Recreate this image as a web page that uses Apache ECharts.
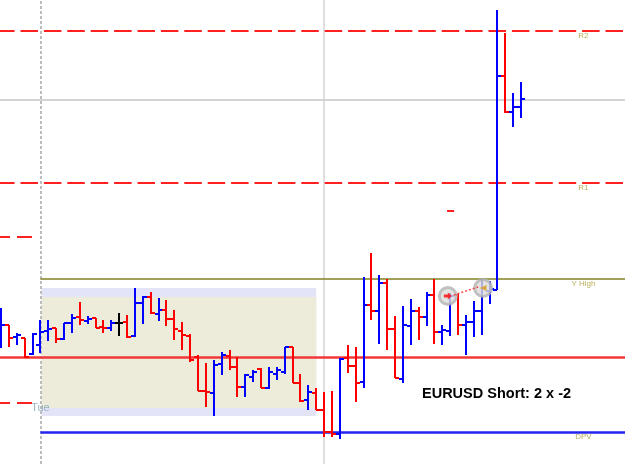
<!DOCTYPE html>
<html><head><meta charset="utf-8">
<script src="https://cdn.jsdelivr.net/npm/echarts@6/dist/echarts.min.js"></script>
<style>html,body{margin:0;padding:0;background:#fff}#c{width:625px;height:464px}</style>
</head><body><div id="c"></div>
<script>
// bar index (time slots)
const barIndex = Array.from({length: 67}, (_, i) => i);
const opens = [1.3155,1.3175,1.3163,1.3162,1.3146,1.3155,1.3169,1.3172,1.3161,1.3177,
1.3183,1.3179,1.3182,1.3173,1.3172,1.3177,1.3178,1.3164,1.3197,1.3203,
1.3186,1.3190,1.3181,1.3169,1.3164,1.3143,1.3109,1.3107,1.3136,1.3144,
1.3133,1.3113,1.3123,1.3131,1.3112,1.3126,1.3128,1.3153,1.3117,1.3100,
1.3107,1.3090,1.3068,1.3066,1.3142,1.3134,1.3118,1.3195,1.3189,1.3217,
1.3171,1.3121,1.3174,1.3189,1.3183,1.3205,1.3168,1.3169,1.3205,1.3175,
1.3178,1.3189,1.3209,1.3210,1.3424,1.3388,1.3393];
const highs = [1.3192,1.3175,1.3167,1.3162,1.3167,1.3180,1.3180,1.3172,1.3177,1.3186,
1.3198,1.3184,1.3182,1.3180,1.3180,1.3187,1.3185,1.3212,1.3204,1.3208,
1.3202,1.3200,1.3190,1.3178,1.3166,1.3145,1.3137,1.3140,1.3148,1.3150,
1.3143,1.3126,1.3130,1.3132,1.3133,1.3133,1.3153,1.3153,1.3126,1.3115,
1.3112,1.3108,1.3109,1.3142,1.3155,1.3153,1.3223,1.3247,1.3225,1.3221,
1.3184,1.3194,1.3201,1.3193,1.3208,1.3221,1.3175,1.3207,1.3206,1.3185,
1.3199,1.3221,1.3219,1.3490,1.3467,1.3407,1.3418];
const lows = [1.3152,1.3153,1.3155,1.3142,1.3145,1.3147,1.3159,1.3157,1.3160,1.3167,
1.3175,1.3176,1.3172,1.3167,1.3169,1.3164,1.3162,1.3163,1.3176,1.3186,
1.3179,1.3174,1.3160,1.3150,1.3138,1.3109,1.3093,1.3084,1.3125,1.3130,
1.3103,1.3103,1.3118,1.3112,1.3111,1.3120,1.3126,1.3117,1.3098,1.3090,
1.3090,1.3063,1.3063,1.3061,1.3127,1.3098,1.3112,1.3180,1.3156,1.3150,
1.3122,1.3117,1.3155,1.3160,1.3174,1.3156,1.3155,1.3164,1.3165,1.3145,
1.3163,1.3165,1.3196,1.3210,1.3387,1.3373,1.3382];
const closes = [1.3175,1.3162,1.3165,1.3143,1.3166,1.3168,1.3171,1.3161,1.3177,1.3182,
1.3180,1.3181,1.3172,1.3172,1.3177,1.3177,1.3163,1.3197,1.3203,1.3187,
1.3190,1.3181,1.3171,1.3165,1.3140,1.3109,1.3108,1.3135,1.3145,1.3133,
1.3113,1.3125,1.3128,1.3112,1.3128,1.3130,1.3153,1.3117,1.3099,1.3108,
1.3090,1.3068,1.3066,1.3141,1.3134,1.3117,1.3195,1.3189,1.3217,1.3171,
1.3122,1.3175,1.3189,1.3183,1.3205,1.3168,1.3170,1.3204,1.3175,1.3178,
1.3189,1.3212,1.3211,1.3424,1.3388,1.3393,1.3401];

// pivot levels
const levelNames  = ['R2', 'R1', 'Y High', 'DPV'];
const levelValues = [1.3469, 1.3317, 1.3221, 1.3068];
const midLevel = 1.3143;      // red solid line
const grayLevel = 1.3400;     // light grey round level
const prevLevels = [1.3263, 1.3097]; // short dashed levels (previous day)
const orderLevel = 1.3289;    // small red dash
const dayStart = 5;           // "Tue" separator
const sessionSep = 41;
const dayLabel = 'Tue';
// session range box
const boxStart = 5.15, boxEnd = 40;
const boxOuter = [1.3212, 1.3084];
const boxInner = [1.3203, 1.3092];
// trade
const entry = [56.7, 1.3204];
const exit = [61.17, 1.3212];
const tradeText = 'EURUSD Short: 2 x -2';

const XMIN = -0.127, XMAX = 79.18;
const YMIN = 1.3036, YMAX = 1.3500;

const ohlc = barIndex.map(i => [i, opens[i], highs[i], lows[i], closes[i]]);

function renderBar(params, api) {
  const x = api.value(0);
  const o = api.value(1), h = api.value(2), l = api.value(3), c = api.value(4);
  const pH = api.coord([x, h]), pL = api.coord([x, l]);
  const pO = api.coord([x, o]), pC = api.coord([x, c]);
  const color = c > o ? '#0000ff' : (c < o ? '#ff0000' : '#000000');
  const cx = Math.round(pH[0]);
  const yo = Math.round(pO[1]), yc = Math.round(pC[1]);
  const st = {stroke: color, lineWidth: 2};
  return {type: 'group', children: [
    {type: 'line', shape: {x1: cx, y1: Math.round(pH[1]), x2: cx, y2: Math.round(pL[1])}, style: st},
    {type: 'line', shape: {x1: cx - 4, y1: yo, x2: cx, y2: yo}, style: st},
    {type: 'line', shape: {x1: cx, y1: yc, x2: cx + 4, y2: yc}, style: st}
  ]};
}

const red = '#ff2020';
const dash = [17.5, 5.9];

const chart = echarts.init(document.getElementById('c'), null, {renderer: 'canvas'});
chart.setOption({
  animation: false,
  backgroundColor: '#ffffff',
  title: {text: tradeText, left: 417, top: 381,
    textStyle: {fontFamily: 'Liberation Sans, Arial, sans-serif', fontWeight: 'bold', fontSize: 14.5, color: '#000'}},
  grid: {left: 0, right: 0, top: 0, bottom: 0},
  xAxis: {type: 'value', min: XMIN, max: XMAX, show: false},
  yAxis: {type: 'value', min: YMIN, max: YMAX, show: false},
  series: [
    {type: 'line', data: [], z: 1, silent: true,
      markArea: {silent: true, data: [
        [{coord: [boxStart, boxOuter[0]], itemStyle: {color: '#e4e4f8'}}, {coord: [boxEnd, boxOuter[1]]}],
        [{coord: [boxStart, boxInner[0]], itemStyle: {color: '#edebd9'}}, {coord: [boxEnd, boxInner[1]]}]
      ]}},
    {type: 'line', data: [], z: 2, silent: true,
      markLine: {silent: true, symbol: 'none', precision: 5, label: {show: false}, data: [
        {xAxis: dayStart, lineStyle: {color: '#a8a8a8', width: 1.5, type: [3, 2]}},
        {xAxis: sessionSep, lineStyle: {color: '#d4d4d4', width: 1.5, type: 'solid'}},
        {yAxis: grayLevel, lineStyle: {color: '#d4d4d4', width: 2, type: 'solid'}},
        {yAxis: levelValues[0], lineStyle: {color: red, width: 2, type: dash, dashOffset: 2.9}},
        {yAxis: levelValues[1], lineStyle: {color: red, width: 2, type: dash, dashOffset: 2.9}},
        [{coord: [dayStart, levelValues[2]], lineStyle: {color: '#808020', width: 1.5, type: 'solid'}}, {coord: [XMAX, levelValues[2]]}],
        [{coord: [dayStart, levelValues[3]], lineStyle: {color: '#2424f0', width: 2.5, type: 'solid'}}, {coord: [XMAX, levelValues[3]]}],
        {yAxis: midLevel, lineStyle: {color: '#f03838', width: 2.5, type: 'solid'}},
        [{coord: [XMIN, prevLevels[0]], lineStyle: {color: red, width: 2, type: [15, 7], dashOffset: 5}}, {coord: [3.93, prevLevels[0]]}],
        [{coord: [XMIN, prevLevels[1]], lineStyle: {color: red, width: 2, type: [15, 7], dashOffset: 5}}, {coord: [3.93, prevLevels[1]]}],
        [{coord: [56.6, orderLevel], lineStyle: {color: red, width: 2, type: 'solid'}}, {coord: [57.5, orderLevel]}]
      ]}},
    {type: 'scatter', z: 3, silent: true, symbolSize: 0,
      data: levelNames.map((n, k) => ({value: [73.9, levelValues[k]], name: n})),
      label: {show: true, position: 'bottom', distance: 1, formatter: p => p.name,
        fontSize: 8, color: '#a89a30', fontFamily: 'Liberation Sans, Arial, sans-serif'}},
    {type: 'scatter', z: 3, silent: true, symbolSize: 0,
      data: [{value: [dayStart, 1.3092], name: dayLabel}],
      label: {show: true, position: 'inside', formatter: p => p.name, fontSize: 11,
        color: '#7ea2b4', fontFamily: 'Liberation Sans, Arial, sans-serif'}},
    {type: 'custom', z: 5, renderItem: renderBar, data: ohlc, silent: true},
    {type: 'scatter', z: 6, silent: true, symbol: 'circle', symbolSize: 17,
      itemStyle: {color: '#dcdcdc', borderColor: '#b4b4b4', borderWidth: 3},
      data: [entry, exit]},
    {type: 'line', z: 7, silent: true, symbol: 'none',
      lineStyle: {color: '#ff4040', width: 1.5, type: [2, 2]},
      data: [[57.45, 1.3205], [60.55, 1.3213]]},
    {type: 'scatter', z: 8, silent: true, symbol: 'path://M0,3 L5,3 L5,0 L10,5 L5,10 L5,7 L0,7 Z',
      symbolSize: [8, 7], itemStyle: {color: '#ff0000'}, data: [entry]},
    {type: 'scatter', z: 8, silent: true, symbol: 'triangle', symbolRotate: 90,
      symbolSize: [6, 7], itemStyle: {color: '#e0a020'}, data: [exit]}
  ]
});
</script></body></html>
